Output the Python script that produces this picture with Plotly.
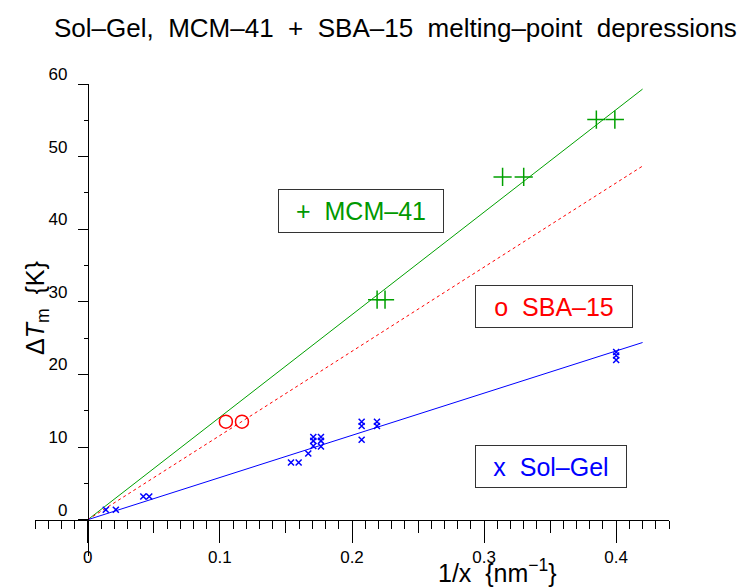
import plotly.graph_objects as go

# ---------------- data ----------------
mcm_x = [0.219, 0.225, 0.314, 0.330, 0.385, 0.399]
mcm_y = [30.3, 30.3, 47.2, 47.2, 55.1, 55.1]

sba_x = [0.1045, 0.1167]
sba_y = [13.5, 13.5]

sol_x = [0.0136, 0.0212, 0.042, 0.0465, 0.1538, 0.1596, 0.1669,
         0.1707, 0.1707, 0.1707, 0.1765, 0.1765, 0.1765,
         0.2073, 0.2073, 0.2073, 0.2189, 0.2189, 0.400, 0.400, 0.400]
sol_y = [1.37, 1.37, 3.2, 3.2, 7.88, 7.88, 9.12,
         11.4, 10.85, 10.16, 11.4, 10.85, 10.08,
         13.5, 12.9, 11.0, 13.5, 12.9, 23.1, 22.6, 22.0]

fit_x = [0.0, 0.42]
fit_mcm_y = [0.0, 59.3]
fit_sba_y = [0.0, 48.7]
fit_sol_y = [0.0, 24.4]

x_major = [0, 0.1, 0.2, 0.3, 0.4]
x_major_text = ["0", "0.1", "0.2", "0.3", "0.4"]
y_major = [0, 10, 20, 30, 40, 50, 60]
y_major_text = ["0", "10", "20", "30", "40", "50", "60"]

GREEN = "#00a000"
GREEN_T = "#009900"
RED = "#ff0000"
BLUE = "#0000ff"
FONT = "Liberation Sans, Arial, sans-serif"

# plot-area pixel box
W, H = 744, 587
L, R, T, B = 35, 669, 84, 556
XR = [-0.04, 0.44]
YR = [-5, 60]


def pxx(xp):
    return (xp - L) / (R - L)


def pxy(yp):
    return (B - yp) / (B - T)


x0_pos = (0 - XR[0]) / (XR[1] - XR[0])
y0_pos = (0 - YR[0]) / (YR[1] - YR[0])

fig = go.Figure()

fig.add_trace(go.Scatter(x=fit_x, y=fit_mcm_y, mode="lines",
                         line=dict(color=GREEN, width=1), showlegend=False, hoverinfo="skip"))
fig.add_trace(go.Scatter(x=fit_x, y=fit_sba_y, mode="lines",
                         line=dict(color=RED, width=1, dash="3px,3px"), showlegend=False, hoverinfo="skip"))
fig.add_trace(go.Scatter(x=fit_x, y=fit_sol_y, mode="lines",
                         line=dict(color=BLUE, width=1), showlegend=False, hoverinfo="skip"))

fig.add_trace(go.Scatter(x=mcm_x, y=mcm_y, mode="markers", name="MCM-41",
                         marker=dict(symbol="cross-thin-open", size=13,
                                     line=dict(color=GREEN, width=1.5), color=GREEN),
                         showlegend=False))
fig.add_trace(go.Scatter(x=sba_x, y=sba_y, mode="markers", name="SBA-15",
                         marker=dict(symbol="circle-open", size=13,
                                     line=dict(color=RED, width=1.5), color=RED),
                         showlegend=False))
fig.add_trace(go.Scatter(x=sol_x, y=sol_y, mode="markers", name="Sol-Gel",
                         marker=dict(symbol="x-thin-open", size=6,
                                     line=dict(color=BLUE, width=1.5), color=BLUE),
                         showlegend=False))

# helper trace so the medium-tick overlay axis is drawn
fig.add_trace(go.Scatter(x=[None], y=[None], xaxis="x2", showlegend=False, hoverinfo="skip"))

minor_x = []
for i in range(49):
    v = round(-0.04 + 0.01 * i, 2)
    if round(v * 100) % 5 != 0:
        minor_x.append(v)
mid_x = [0.05, 0.15, 0.25, 0.35]

fig.update_layout(
    width=W, height=H,
    margin=dict(l=L, r=W - R, t=T, b=H - B),
    paper_bgcolor="white", plot_bgcolor="white",
    font=dict(family=FONT, color="black", size=17),
    xaxis=dict(
        range=XR, domain=[0, 1], anchor="free", position=y0_pos,
        showgrid=False, zeroline=False, showline=True, linecolor="black", linewidth=1,
        tickmode="array", tickvals=x_major, ticktext=x_major_text,
        ticks="outside", ticklen=22, tickwidth=1, tickcolor="black",
        tickfont=dict(size=17, family=FONT), ticklabelstandoff=0,
        minor=dict(tickmode="array", tickvals=minor_x, ticks="outside",
                   ticklen=8, tickwidth=1, tickcolor="black", showgrid=False),
    ),
    xaxis2=dict(
        range=XR, overlaying="x", anchor="free", position=y0_pos,
        showgrid=False, zeroline=False, showline=False,
        tickmode="array", tickvals=mid_x, showticklabels=False,
        ticks="outside", ticklen=12, tickwidth=1, tickcolor="black",
    ),
    yaxis=dict(
        range=YR, domain=[0, 1], anchor="free", position=x0_pos,
        showgrid=False, zeroline=False, showline=True, linecolor="black", linewidth=1,
        tickmode="array", tickvals=y_major, ticktext=y_major_text,
        ticks="outside", ticklen=10, tickwidth=1, tickcolor="black",
        tickfont=dict(size=17, family=FONT),
        ticklabelshift=-10, ticklabelstandoff=7,
        minor=dict(tickmode="array", tickvals=[5, 15, 25, 35, 45, 55], ticks="outside",
                   ticklen=4, tickwidth=1, tickcolor="black", showgrid=False),
    ),
)

NB = "\u00a0"
annotations = [
    # title
    dict(text=f"Sol–Gel,{NB*2}MCM–41{NB*2}+{NB*2}SBA–15{NB*2}melting–point{NB*2}depressions",
         xref="paper", yref="paper", x=pxx(395), y=pxy(28), xanchor="center", yanchor="middle",
         showarrow=False, font=dict(size=26, color="black", family=FONT)),
    # axis titles
    dict(text=f"Δ<i>T</i><sub>m</sub>{NB*2}{{K}}", textangle=-90,
         xref="paper", yref="paper", x=pxx(37), y=pxy(308), xanchor="center", yanchor="middle",
         showarrow=False, font=dict(size=25, color="black", family=FONT)),
    dict(text=f"1/x{NB*2}{{nm<sup>−1</sup>}}",
         xref="paper", yref="paper", x=pxx(497), y=pxy(571), xanchor="center", yanchor="middle",
         showarrow=False, font=dict(size=25, color="black", family=FONT)),
    # legend boxes
    dict(text=f"+{NB*2}MCM–41", xref="paper", yref="paper", x=pxx(361), y=pxy(211),
         xanchor="center", yanchor="middle", showarrow=False, width=160, height=38,
         borderpad=2, bordercolor="#333333", borderwidth=1, bgcolor="white",
         font=dict(size=25, color=GREEN_T, family=FONT)),
    dict(text=f"o{NB*2}SBA–15", xref="paper", yref="paper", x=pxx(554), y=pxy(306),
         xanchor="center", yanchor="middle", showarrow=False, width=152, height=37,
         borderpad=2, bordercolor="#333333", borderwidth=1, bgcolor="white",
         font=dict(size=25, color=RED, family=FONT)),
    dict(text=f"x{NB*2}Sol–Gel", xref="paper", yref="paper", x=pxx(551), y=pxy(466),
         xanchor="center", yanchor="middle", showarrow=False, width=146, height=37,
         borderpad=2, bordercolor="#333333", borderwidth=1, bgcolor="white",
         font=dict(size=25, color=BLUE, family=FONT)),
]
fig.update_layout(annotations=annotations)

fig.write_html("out.html")
